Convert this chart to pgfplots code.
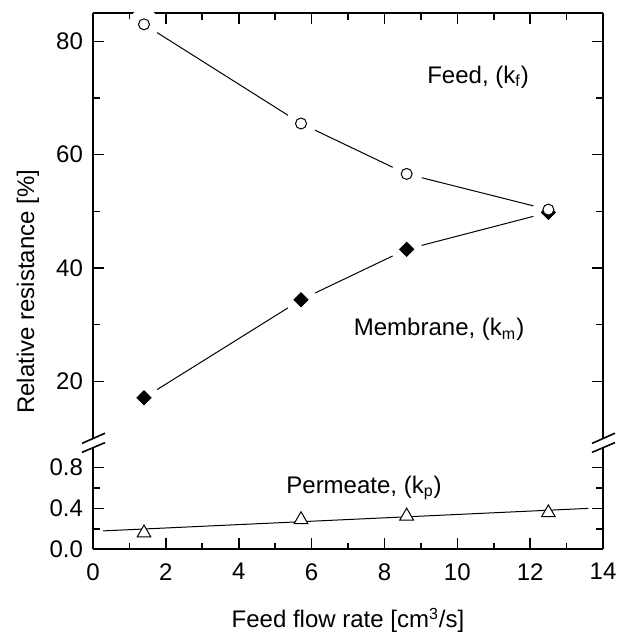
\documentclass[border=0pt]{standalone}
\usepackage{pgfplots}
\pgfplotsset{compat=1.18}
\usepackage{fontspec}
\setmainfont{Liberation Sans}

\pgfplotstableread{
x y
1.40 83.0
5.71 65.5
8.61 56.6
12.50 50.3
}\feed
\pgfplotstableread{
x y
1.40 17.1
5.71 34.4
8.61 43.3
12.50 49.8
}\membrane
\pgfplotstableread{
x y
1.40 0.16
5.71 0.29
8.61 0.325
12.50 0.357
}\permeate
\pgfplotstableread{
x y
0.28 0.18
13.6 0.40
}\permfit

\begin{document}
\begin{tikzpicture}[font=\fontsize{12}{14}\selectfont]
\pgfplotsset{
  every axis/.append style={
    scale only axis, width=255pt,
    xmin=0, xmax=14,
    font=\fontsize{12}{14}\selectfont,
    tick label style={font=\fontsize{12}{14}\selectfont},
    /pgf/number format/assume math mode=true,
    tick align=inside,
    major tick length=5.5pt, minor tick length=3.3pt,
    tick style={black, line width=0.8pt},
    x axis line style={-, line width=1pt},
    y axis line style={-, line width=1pt},
    xtick={0,2,...,14}, minor xtick={1,3,...,13},
    yticklabel style={xshift=-1.5pt},
  }
}
\begin{axis}[name=up, at={(0,0)}, anchor=south west, height=212.5pt,
  ymin=10, ymax=85, ytick={20,40,60,80}, minor ytick={30,50,70},
  axis x line*=top, axis y line*=box, xticklabels={}, yticklabel pos=left]
\addplot[line width=0.5pt, black] table {\feed};
\addplot[line width=0.5pt, black] table {\membrane};
\addplot[white, only marks, mark=*, mark size=7.5pt, mark options={draw=white, fill=white}] table {\feed};
\addplot[white, only marks, mark=*, mark size=7.5pt, mark options={draw=white, fill=white}] table {\membrane};
\addplot[black, only marks, mark=square*, mark size=2.5pt, mark options={rotate=45, fill=black, draw=black}] table {\membrane};
\addplot[black, only marks, mark=*, mark size=2.75pt, mark options={fill=white, draw=black, line width=0.5pt}] table {\feed};
\node at (axis cs:10.57,73.7) {Feed, (k\textsubscript{f})};
\node at (axis cs:9.50,29.1) {Membrane, (k\textsubscript{m})};
\end{axis}
\begin{axis}[name=lo, at={(0,-4.5pt)}, anchor=north west, height=51.15pt,
  ymin=0, ymax=1.0, ytick={0,0.4,0.8}, yticklabels={0.0,0.4,0.8}, minor ytick={0.2,0.6},
  axis x line*=bottom, axis y line*=box, yticklabel pos=left,
  xticklabel style={yshift=-3.5pt}]
\addplot[line width=0.5pt, black] table {\permfit};
\addplot[black, only marks, mark=triangle*, mark size=3.95pt, mark options={fill=white, draw=black, line width=0.5pt}] table {\permeate};
\node at (axis cs:7.44,0.60) {Permeate, (k\textsubscript{p})};
\end{axis}
% axis break marks
\foreach \anc in {up.south west, up.south east} {
  \draw[line width=0.8pt] ([shift={(-5.5pt,-2.7pt)}]\anc) -- ([shift={(6pt,2.4pt)}]\anc);
  \draw[line width=0.8pt] ([shift={(-5.5pt,-7.2pt)}]\anc) -- ([shift={(6pt,-2.3pt)}]\anc);
}
\node[rotate=90] at ([shift={(-32.5pt,73.1pt)}]up.south west) {Relative resistance [\%]};
\node at ([yshift=-35.6pt]lo.south) {Feed flow rate [cm\textsuperscript{3}/s]};
\pgfresetboundingbox
\path[use as bounding box] ([shift={(-46.5pt,-41.85pt)}]lo.south west) rectangle ([shift={(7pt,6.5pt)}]up.north east);
\end{tikzpicture}
\end{document}
